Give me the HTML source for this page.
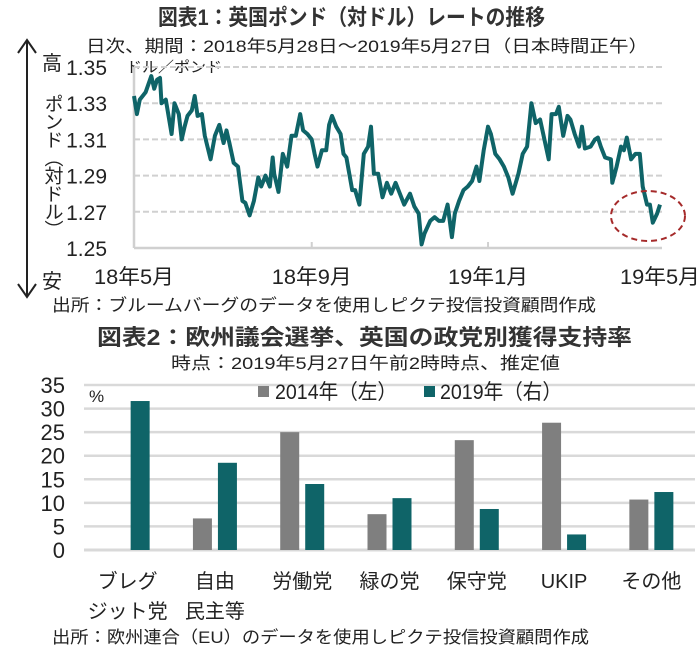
<!DOCTYPE html>
<html><head><meta charset="utf-8">
<style>
html,body{margin:0;padding:0;background:#fff;}
svg{display:block;font-family:"Liberation Sans Narrow","Liberation Sans","Noto Sans CJK JP",sans-serif;}
</style></head><body>
<svg id="root" width="700" height="652" viewBox="0 0 700 652" xmlns="http://www.w3.org/2000/svg">
<g id="c1"></g>
<g id="c2"></g>
</svg>
<script>
// ---------- Chart 1 data ----------
const rateDays = [0,2,4,8,12,14,16,18,19,22,26,28,31,33,35,37,40,42,44,47,49,53,56,59,62,64,66,69,72,75,77,80,83,86,88,91,94,96,97,100,103,106,109,112,115,117,120,123,125,127,130,133,135,137,140,143,145,147,151,153,156,159,162,164,166,169,172,175,178,181,184,187,191,194,197,199,201,205,208,211,214,217,220,222,225,228,231,234,237,239,242,245,247,250,253,256,259,262,266,269,272,275,278,281,284,287,289,292,294,297,300,302,305,308,310,312,316,319,321,323,326,330,331,334,337,339,341,344,347,350,352,355,357,359,362,364];
const rateValues = [1.334,1.324,1.332,1.336,1.345,1.338,1.343,1.344,1.330,1.332,1.313,1.330,1.324,1.310,1.317,1.323,1.326,1.334,1.323,1.324,1.312,1.299,1.312,1.318,1.308,1.315,1.308,1.297,1.295,1.276,1.275,1.268,1.276,1.289,1.284,1.290,1.284,1.300,1.291,1.281,1.302,1.295,1.312,1.312,1.324,1.315,1.313,1.310,1.302,1.295,1.304,1.304,1.318,1.323,1.317,1.313,1.302,1.300,1.282,1.282,1.274,1.302,1.306,1.317,1.291,1.291,1.278,1.286,1.280,1.286,1.280,1.274,1.280,1.273,1.269,1.252,1.258,1.265,1.267,1.265,1.265,1.274,1.256,1.269,1.276,1.282,1.284,1.287,1.295,1.287,1.304,1.317,1.313,1.302,1.299,1.295,1.289,1.280,1.291,1.302,1.306,1.330,1.319,1.321,1.310,1.299,1.324,1.324,1.328,1.312,1.323,1.321,1.313,1.306,1.317,1.305,1.306,1.310,1.311,1.306,1.300,1.299,1.286,1.295,1.306,1.304,1.311,1.299,1.302,1.302,1.284,1.274,1.274,1.264,1.269,1.274];
const rateTicks = [1.35,1.33,1.31,1.29,1.27,1.25];
const monthTickDays = [0,123,245,364];
const monthLabels = ["18年5月","18年9月","19年1月","19年5月"];

// ---------- Chart 2 data ----------
const parties = ["ブレグ|ジット党","自由|民主等","労働党","緑の党","保守党","UKIP","その他"];
const share2014 = [0,6.7,25,7.6,23.3,27,10.7];
const share2019 = [31.6,18.5,14,11,8.7,3.3,12.3];
const pctTicks = [0,5,10,15,20,25,30,35];

const NS="http://www.w3.org/2000/svg";
function mk(parent,tag,attrs,text){const e=document.createElementNS(NS,tag);for(const k in attrs)e.setAttribute(k,attrs[k]);if(text!==undefined)e.textContent=text;parent.appendChild(e);return e;}

// ---------- Chart 1 ----------
const c1=document.getElementById('c1');
const X0=134,X1=660,Y0=248,Y1=67,V0=1.25,V1=1.35;
const xDay=d=>X0+d/364*(X1-X0);
const yRate=v=>Y0-(v-V0)/(V1-V0)*(Y0-Y1);

let t=mk(c1,'text',{x:158,y:25,'font-size':22,'font-weight':'bold',fill:'#333',textLength:387,lengthAdjust:'spacingAndGlyphs'},'図表1：英国ポンド（対ドル）レートの推移');


t=mk(c1,'text',{x:86,y:52,'font-size':17,fill:'#222',textLength:562,lengthAdjust:'spacingAndGlyphs'},'日次、期間：2018年5月28日～2019年5月27日（日本時間正午）');


t=mk(c1,'text',{x:126,y:72,'font-size':15,fill:'#222',textLength:96,lengthAdjust:'spacingAndGlyphs'},'ドル／ポンド');



rateTicks.forEach((v,i)=>{
  const y=yRate(v);
  if(i<rateTicks.length-1){
    const g=mk(c1,'line',{x1:X0,x2:X1+2,y1:y,y2:y,stroke:'#d0d0d0','stroke-width':2,'stroke-dasharray':'6,3'});
    
    
  }
  const l=mk(c1,'text',{x:107,y:y+8,'text-anchor':'end','font-size':21,fill:'#222'},v.toFixed(2));
  
  
});
let ax=mk(c1,'line',{x1:X0,x2:X1+2,y1:Y0,y2:Y0,stroke:'#d0d0d0','stroke-width':2.5});


ax=mk(c1,'line',{x1:X0,x2:X0,y1:Y1,y2:Y0,stroke:'#d0d0d0','stroke-width':2.5});


monthTickDays.forEach((d,i)=>{
  const x=xDay(d);
  if(i>0&&i<3){const tk=mk(c1,'line',{x1:x,x2:x,y1:Y0-6,y2:Y0,stroke:'#d0d0d0','stroke-width':2});
  
  }
  const l=mk(c1,'text',{x:x,y:284,'text-anchor':'middle','font-size':21,fill:'#222',textLength:80,lengthAdjust:'spacingAndGlyphs'},monthLabels[i]);
  
  
});
const pts=rateDays.map((d,i)=>xDay(d).toFixed(1)+','+yRate(rateValues[i]).toFixed(1)).join(' ');
const ln=mk(c1,'polyline',{points:pts,fill:'none',stroke:'#0f6468','stroke-width':4,'stroke-linejoin':'round'});


const el=mk(c1,'ellipse',{cx:648,cy:216,rx:37,ry:25,fill:'none',stroke:'#a52a2a','stroke-width':2,'stroke-dasharray':'6,4'});


const ar=mk(c1,'path',{d:'M27,40 L27,297 M18,53 L27,40 L36,53 M18,284 L27,297 L36,284',fill:'none',stroke:'#222','stroke-width':2});


t=mk(c1,'text',{x:52,y:70,'text-anchor':'middle','font-size':20,fill:'#222'},'高');


t=mk(c1,'text',{x:52,y:288,'text-anchor':'middle','font-size':20,fill:'#222'},'安');


t=mk(c1,'text',{x:52,y:94,'font-size':19,fill:'#222','writing-mode':'tb','glyph-orientation-vertical':0,'letter-spacing':'-1'},'ポンド（対ドル）');


t=mk(c1,'text',{x:52,y:311,'font-size':17,fill:'#222',textLength:544,lengthAdjust:'spacingAndGlyphs'},'出所：ブルームバーグのデータを使用しピクテ投信投資顧問作成');



// ---------- Chart 2 ----------
const c2=document.getElementById('c2');
const BX0=84,BX1=695,BY0=550,BY1=385,PMAX=35;
const band=(BX1-BX0)/parties.length;
const yPct=v=>BY0-v/PMAX*(BY0-BY1);
const cx=i=>BX0+band*(i+0.5);

t=mk(c2,'text',{x:97,y:345,'font-size':22,'font-weight':'bold',fill:'#333',textLength:535,lengthAdjust:'spacingAndGlyphs'},'図表2：欧州議会選挙、英国の政党別獲得支持率');


t=mk(c2,'text',{x:171,y:369,'font-size':17,fill:'#222',textLength:389,lengthAdjust:'spacingAndGlyphs'},'時点：2019年5月27日午前2時時点、推定値');


pctTicks.forEach(v=>{
  const y=yPct(v);
  const g=mk(c2,'line',{x1:BX0,x2:BX1,y1:y,y2:y,stroke:'#d9d9d9','stroke-width':v==0?3:2.5});
  
  
  const l=mk(c2,'text',{x:65,y:y+8,'text-anchor':'end','font-size':22,fill:'#222'},String(v));
  
  
});
t=mk(c2,'text',{x:89,y:402,'font-size':17,fill:'#222'},'%');


parties.forEach((p,i)=>{
  const c=cx(i);
  if(share2014[i]>0){
    const b=mk(c2,'rect',{x:c-22,y:yPct(share2014[i]),width:19,height:BY0-yPct(share2014[i]),fill:'#7f7f7f'});
    
    
  }
  const b2=mk(c2,'rect',{x:c+3,y:yPct(share2019[i]),width:19,height:BY0-yPct(share2019[i]),fill:'#0f6468'});
  
  
  p.split('|').forEach((s,k)=>{
    const l=mk(c2,'text',{x:c,y:588+k*30,'text-anchor':'middle','font-size':20,fill:'#222'},s);
    
    
  });
});
let lg=mk(c2,'rect',{x:258,y:386,width:11,height:11,fill:'#7f7f7f'});


lg=mk(c2,'text',{x:275,y:399,'font-size':21,fill:'#222',textLength:122,lengthAdjust:'spacingAndGlyphs'},'2014年（左）');


lg=mk(c2,'rect',{x:424,y:386,width:11,height:11,fill:'#0f6468'});


lg=mk(c2,'text',{x:440,y:399,'font-size':21,fill:'#222',textLength:122,lengthAdjust:'spacingAndGlyphs'},'2019年（右）');


t=mk(c2,'text',{x:52,y:643,'font-size':17,fill:'#222',textLength:537,lengthAdjust:'spacingAndGlyphs'},'出所：欧州連合（EU）のデータを使用しピクテ投信投資顧問作成');


</script>
</body></html>
